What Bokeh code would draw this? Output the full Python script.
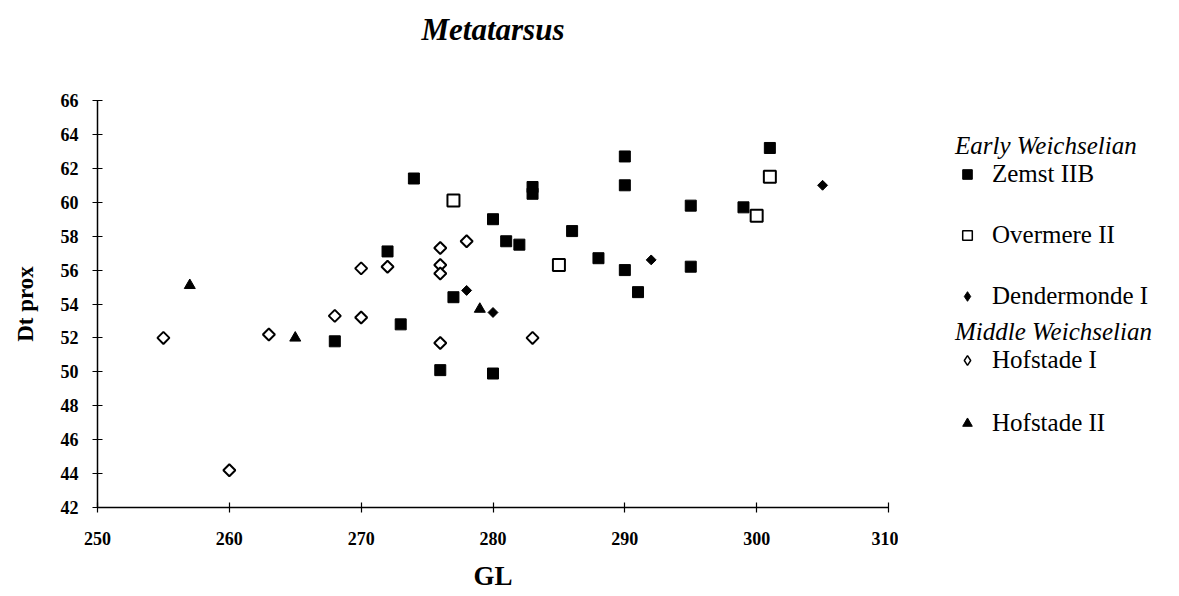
from bokeh.plotting import figure
from bokeh.models import Range1d, Legend, LegendItem
from bokeh.layouts import row, column
from bokeh.embed import file_html
from bokeh.resources import INLINE
import math

# ---- data ----
title_text = "Metatarsus"
x_label = "GL"
y_label = "Dt prox"
x_ticks = [250, 260, 270, 280, 290, 300, 310]
y_ticks = [42, 44, 46, 48, 50, 52, 54, 56, 58, 60, 62, 64, 66]

group_early = "Early Weichselian"
group_middle = "Middle Weichselian"

zemst_x = [268, 272, 273, 274, 276, 277, 280, 280, 281, 282, 283, 283, 286, 288,
           290, 290, 290, 291, 295, 295, 299, 301]
zemst_y = [51.8, 57.1, 52.8, 61.4, 50.1, 54.4, 59.0, 49.9, 57.7, 57.5, 60.9, 60.5,
           58.3, 56.7, 62.7, 61.0, 56.0, 54.7, 59.8, 56.2, 59.7, 63.2]
overmere_x = [277, 285, 300, 301]
overmere_y = [60.1, 56.3, 59.2, 61.5]
dender_x = [278, 280, 292, 305]
dender_y = [54.8, 53.5, 56.6, 61.0]
hof1_x = [255, 260, 263, 268, 270, 270, 272, 276, 276, 276, 276, 278, 283]
hof1_y = [52.0, 44.2, 52.2, 53.3, 53.2, 56.1, 56.2, 57.3, 56.3, 55.8, 51.7, 57.7, 52.0]
hof2_x = [257, 265, 279]
hof2_y = [55.1, 52.0, 53.7]

names = ["Zemst IIB", "Overmere II", "Dendermonde I", "Hofstade I", "Hofstade II"]

SERIF = "Liberation Serif"
TOTAL_H = 596
T_H = 56                     # height of the title strip
H = TOTAL_H - T_H            # height of plot + legend row
FRAME_TOP = 100 - T_H
FRAME_BOTTOM = 507 - T_H


def blank(fig):
    fig.outline_line_color = None
    fig.xgrid.visible = False
    fig.ygrid.visible = False
    fig.background_fill_color = "white"
    fig.border_fill_color = "white"


# ---- title strip ----
t = figure(width=898, height=T_H, x_range=Range1d(0, 1), y_range=Range1d(0, 1),
           output_backend="svg", toolbar_location=None,
           x_axis_location=None, y_axis_location=None,
           min_border_left=97, min_border_right=10,
           min_border_top=0, min_border_bottom=0)
blank(t)
t.title.text = title_text
t.title.align = "center"
t.title.text_font = SERIF
t.title.text_font_style = "bold italic"
t.title.text_font_size = "31px"
t.title.text_color = "black"
t.title.standoff = 18

# ---- main plot ----
p = figure(width=898, height=H,
           x_range=Range1d(x_ticks[0], x_ticks[-1]),
           y_range=Range1d(y_ticks[0], y_ticks[-1]),
           output_backend="svg", toolbar_location=None,
           min_border_left=97, min_border_right=10,
           min_border_top=FRAME_TOP, min_border_bottom=H - FRAME_BOTTOM)
blank(p)

for ax in (p.xaxis[0], p.yaxis[0]):
    ax.axis_line_color = "black"
    ax.axis_line_width = 1.5
    ax.major_tick_line_color = "black"
    ax.major_tick_line_width = 1.2
    ax.major_tick_in = 5
    ax.major_tick_out = 5
    ax.minor_tick_line_color = None
    ax.major_label_text_font = SERIF
    ax.major_label_text_font_style = "bold"
    ax.major_label_text_font_size = "18px"
    ax.major_label_text_color = "black"
    ax.axis_label_text_font = SERIF
    ax.axis_label_text_font_style = "bold"
    ax.axis_label_text_color = "black"

p.xaxis.ticker = x_ticks
p.yaxis.ticker = y_ticks
p.xaxis.axis_label = x_label
p.yaxis.axis_label = y_label
p.xaxis.axis_label_text_font_size = "27px"
p.yaxis.axis_label_text_font_size = "23px"
p.xaxis.major_label_standoff = 19
p.xaxis.axis_label_standoff = 13
p.yaxis.major_label_standoff = 14
p.yaxis.axis_label_standoff = 20

p.scatter(zemst_x, zemst_y, marker="square", size=11,
          fill_color="black", line_color="black", line_width=1)
p.scatter(overmere_x, overmere_y, marker="square", size=12,
          fill_color="white", line_color="black", line_width=2)
p.scatter(dender_x, dender_y, marker="square", size=7, angle=math.pi / 4,
          fill_color="black", line_color="black", line_width=1)
p.scatter(hof1_x, hof1_y, marker="square", size=8.5, angle=math.pi / 4,
          fill_color="white", line_color="black", line_width=2)
p.scatter(hof2_x, hof2_y, marker="triangle", size=11,
          fill_color="black", line_color="black", line_width=1)

# ---- legend panel: same series, out of this panel's view, used for legend keys ----
q = figure(width=277, height=H, x_range=Range1d(0, 1), y_range=Range1d(0, 1),
           output_backend="svg", toolbar_location=None,
           x_axis_location=None, y_axis_location=None,
           min_border_left=0, min_border_right=0,
           min_border_top=0, min_border_bottom=0)
blank(q)

lg_z = q.scatter(zemst_x, zemst_y, marker="square", fill_color="black", line_color="black")
lg_o = q.scatter(overmere_x, overmere_y, marker="square", fill_color="white",
                 line_color="black", line_width=1.5)
lg_d = q.scatter(dender_x, dender_y, marker="diamond", fill_color="black", line_color="black")
lg_h1 = q.scatter(hof1_x, hof1_y, marker="diamond", fill_color="white",
                  line_color="black", line_width=1.5)
lg_h2 = q.scatter(hof2_x, hof2_y, marker="triangle", fill_color="black", line_color="black")


def make_legend(title, items, location, spacing):
    return Legend(items=items, title=title, location=location,
                  orientation="vertical",
                  title_text_font=SERIF, title_text_font_style="italic",
                  title_text_font_size="25px", title_text_color="black",
                  title_standoff=0,
                  label_text_font=SERIF, label_text_font_size="25px",
                  label_text_color="black", label_standoff=13,
                  glyph_width=24, glyph_height=28, label_height=28,
                  spacing=spacing, padding=0, margin=0,
                  border_line_color=None, background_fill_alpha=0)


leg1 = make_legend(group_early,
                   [LegendItem(label=names[0], renderers=[lg_z]),
                    LegendItem(label=names[1], renderers=[lg_o]),
                    LegendItem(label=names[2], renderers=[lg_d])],
                   (57, 197), 33)
leg2 = make_legend(group_middle,
                   [LegendItem(label=names[3], renderers=[lg_h1]),
                    LegendItem(label=names[4], renderers=[lg_h2])],
                   (57, 70), 35)
q.add_layout(leg1)
q.add_layout(leg2)

layout = column(t, row(p, q))
open("out.html", "w").write(file_html(layout, INLINE))
